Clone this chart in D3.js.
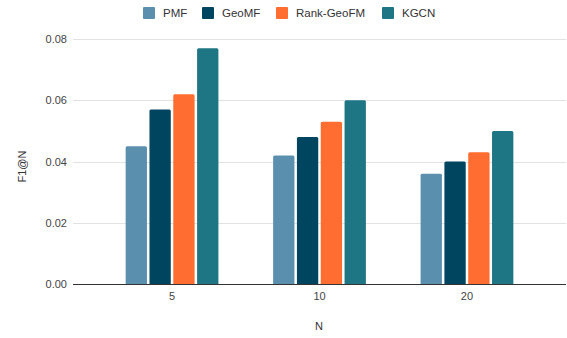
<!DOCTYPE html>
<html>
<head>
<meta charset="utf-8">
<script src="https://cdn.jsdelivr.net/npm/d3@7"></script>
<style>
  html, body { margin: 0; padding: 0; background: #fff; }
  svg text { font-family: "Liberation Sans", Arial, sans-serif; }
</style>
</head>
<body>
<svg id="chart" width="567" height="338"></svg>
<script>
// ---- data ----
const categories = ["5", "10", "20"];
const seriesNames = ["PMF", "GeoMF", "Rank-GeoFM", "KGCN"];
const PMF = [0.045, 0.042, 0.036];
const GeoMF = [0.057, 0.048, 0.040];
const RankGeoFM = [0.062, 0.053, 0.043];
const KGCN = [0.077, 0.060, 0.050];
const yTicks = [0, 0.02, 0.04, 0.06, 0.08];
const colors = ["#5a90ae", "#00455f", "#ff6d31", "#1e7584"];

const seriesValues = [PMF, GeoMF, RankGeoFM, KGCN];
const table = categories.map((c, i) => ({
  cat: c,
  vals: seriesNames.map((s, j) => ({ key: s, value: seriesValues[j][i] }))
}));

// ---- layout ----
const svg = d3.select("#chart");
const mLeft = 73, mRight = 566, mTop = 39, mBottom = 284;

const y = d3.scaleLinear().domain([0, 0.08]).range([mBottom, mTop]);
const x0 = d3.scaleBand().domain(categories).range([mLeft, mRight])
  .paddingInner(0.371).paddingOuter(0.357);
const x1 = d3.scaleBand().domain(seriesNames).range([0, x0.bandwidth()])
  .paddingInner(0.105).paddingOuter(0);
const color = d3.scaleOrdinal().domain(seriesNames).range(colors);

// gridlines
svg.append("g")
  .selectAll("line")
  .data(yTicks.filter(t => t !== 0))
  .join("line")
  .attr("x1", mLeft).attr("x2", mRight)
  .attr("y1", d => Math.round(y(d)) + 0.5).attr("y2", d => Math.round(y(d)) + 0.5)
  .attr("stroke", "#e2e2e2").attr("stroke-width", 1);

// y axis labels
const yAxis = d3.axisLeft(y).tickValues(yTicks).tickFormat(d3.format(".2f")).tickSize(0).tickPadding(6);
const gy = svg.append("g").attr("transform", `translate(${mLeft},0)`).call(yAxis);
gy.select(".domain").remove();
gy.selectAll("text").attr("fill", "#444").attr("font-size", 11)
  .attr("font-family", "'Liberation Sans', Arial, sans-serif");

// bars with slightly rounded tops
function barPath(x, yTop, w, h, r) {
  r = Math.min(r, h, w / 2);
  return `M${x},${yTop + h}V${yTop + r}Q${x},${yTop} ${x + r},${yTop}H${x + w - r}Q${x + w},${yTop} ${x + w},${yTop + r}V${yTop + h}Z`;
}
const groups = svg.append("g").selectAll("g")
  .data(table).join("g")
  .attr("transform", d => `translate(${x0(d.cat)},0)`);
groups.selectAll("path")
  .data(d => d.vals).join("path")
  .attr("d", d => barPath(x1(d.key), y(d.value), x1.bandwidth(), mBottom - y(d.value), 1.5))
  .attr("fill", d => color(d.key));

// x axis
const xAxis = d3.axisBottom(x0).tickSize(0).tickPadding(8);
const gx = svg.append("g").attr("transform", `translate(0,${mBottom})`).call(xAxis);
gx.select(".domain").remove();
gx.selectAll("text").attr("fill", "#444").attr("font-size", 11)
  .attr("font-family", "'Liberation Sans', Arial, sans-serif");
svg.append("line")
  .attr("x1", mLeft).attr("x2", mRight)
  .attr("y1", mBottom + 0.5).attr("y2", mBottom + 0.5)
  .attr("stroke", "#333").attr("stroke-width", 1);

// axis titles
svg.append("text")
  .attr("x", (mLeft + mRight) / 2 - 0.5).attr("y", 330)
  .attr("text-anchor", "middle").attr("font-size", 11).attr("fill", "#333")
  .text("N");
svg.append("text")
  .attr("transform", `translate(25.5,${(mTop + mBottom) / 2 + 5}) rotate(-90)`)
  .attr("text-anchor", "middle").attr("font-size", 11).attr("fill", "#333")
  .text("F1@N");

// legend
const legendX = [143, 202, 276, 382];
const legend = svg.append("g").selectAll("g")
  .data(seriesNames).join("g")
  .attr("transform", (d, i) => `translate(${legendX[i]},7)`);
legend.append("rect")
  .attr("width", 12).attr("height", 12).attr("rx", 1)
  .attr("fill", d => color(d));
legend.append("text")
  .attr("x", 20).attr("y", 10)
  .attr("font-size", 11.5).attr("fill", "#333")
  .text(d => d);
</script>
</body>
</html>
